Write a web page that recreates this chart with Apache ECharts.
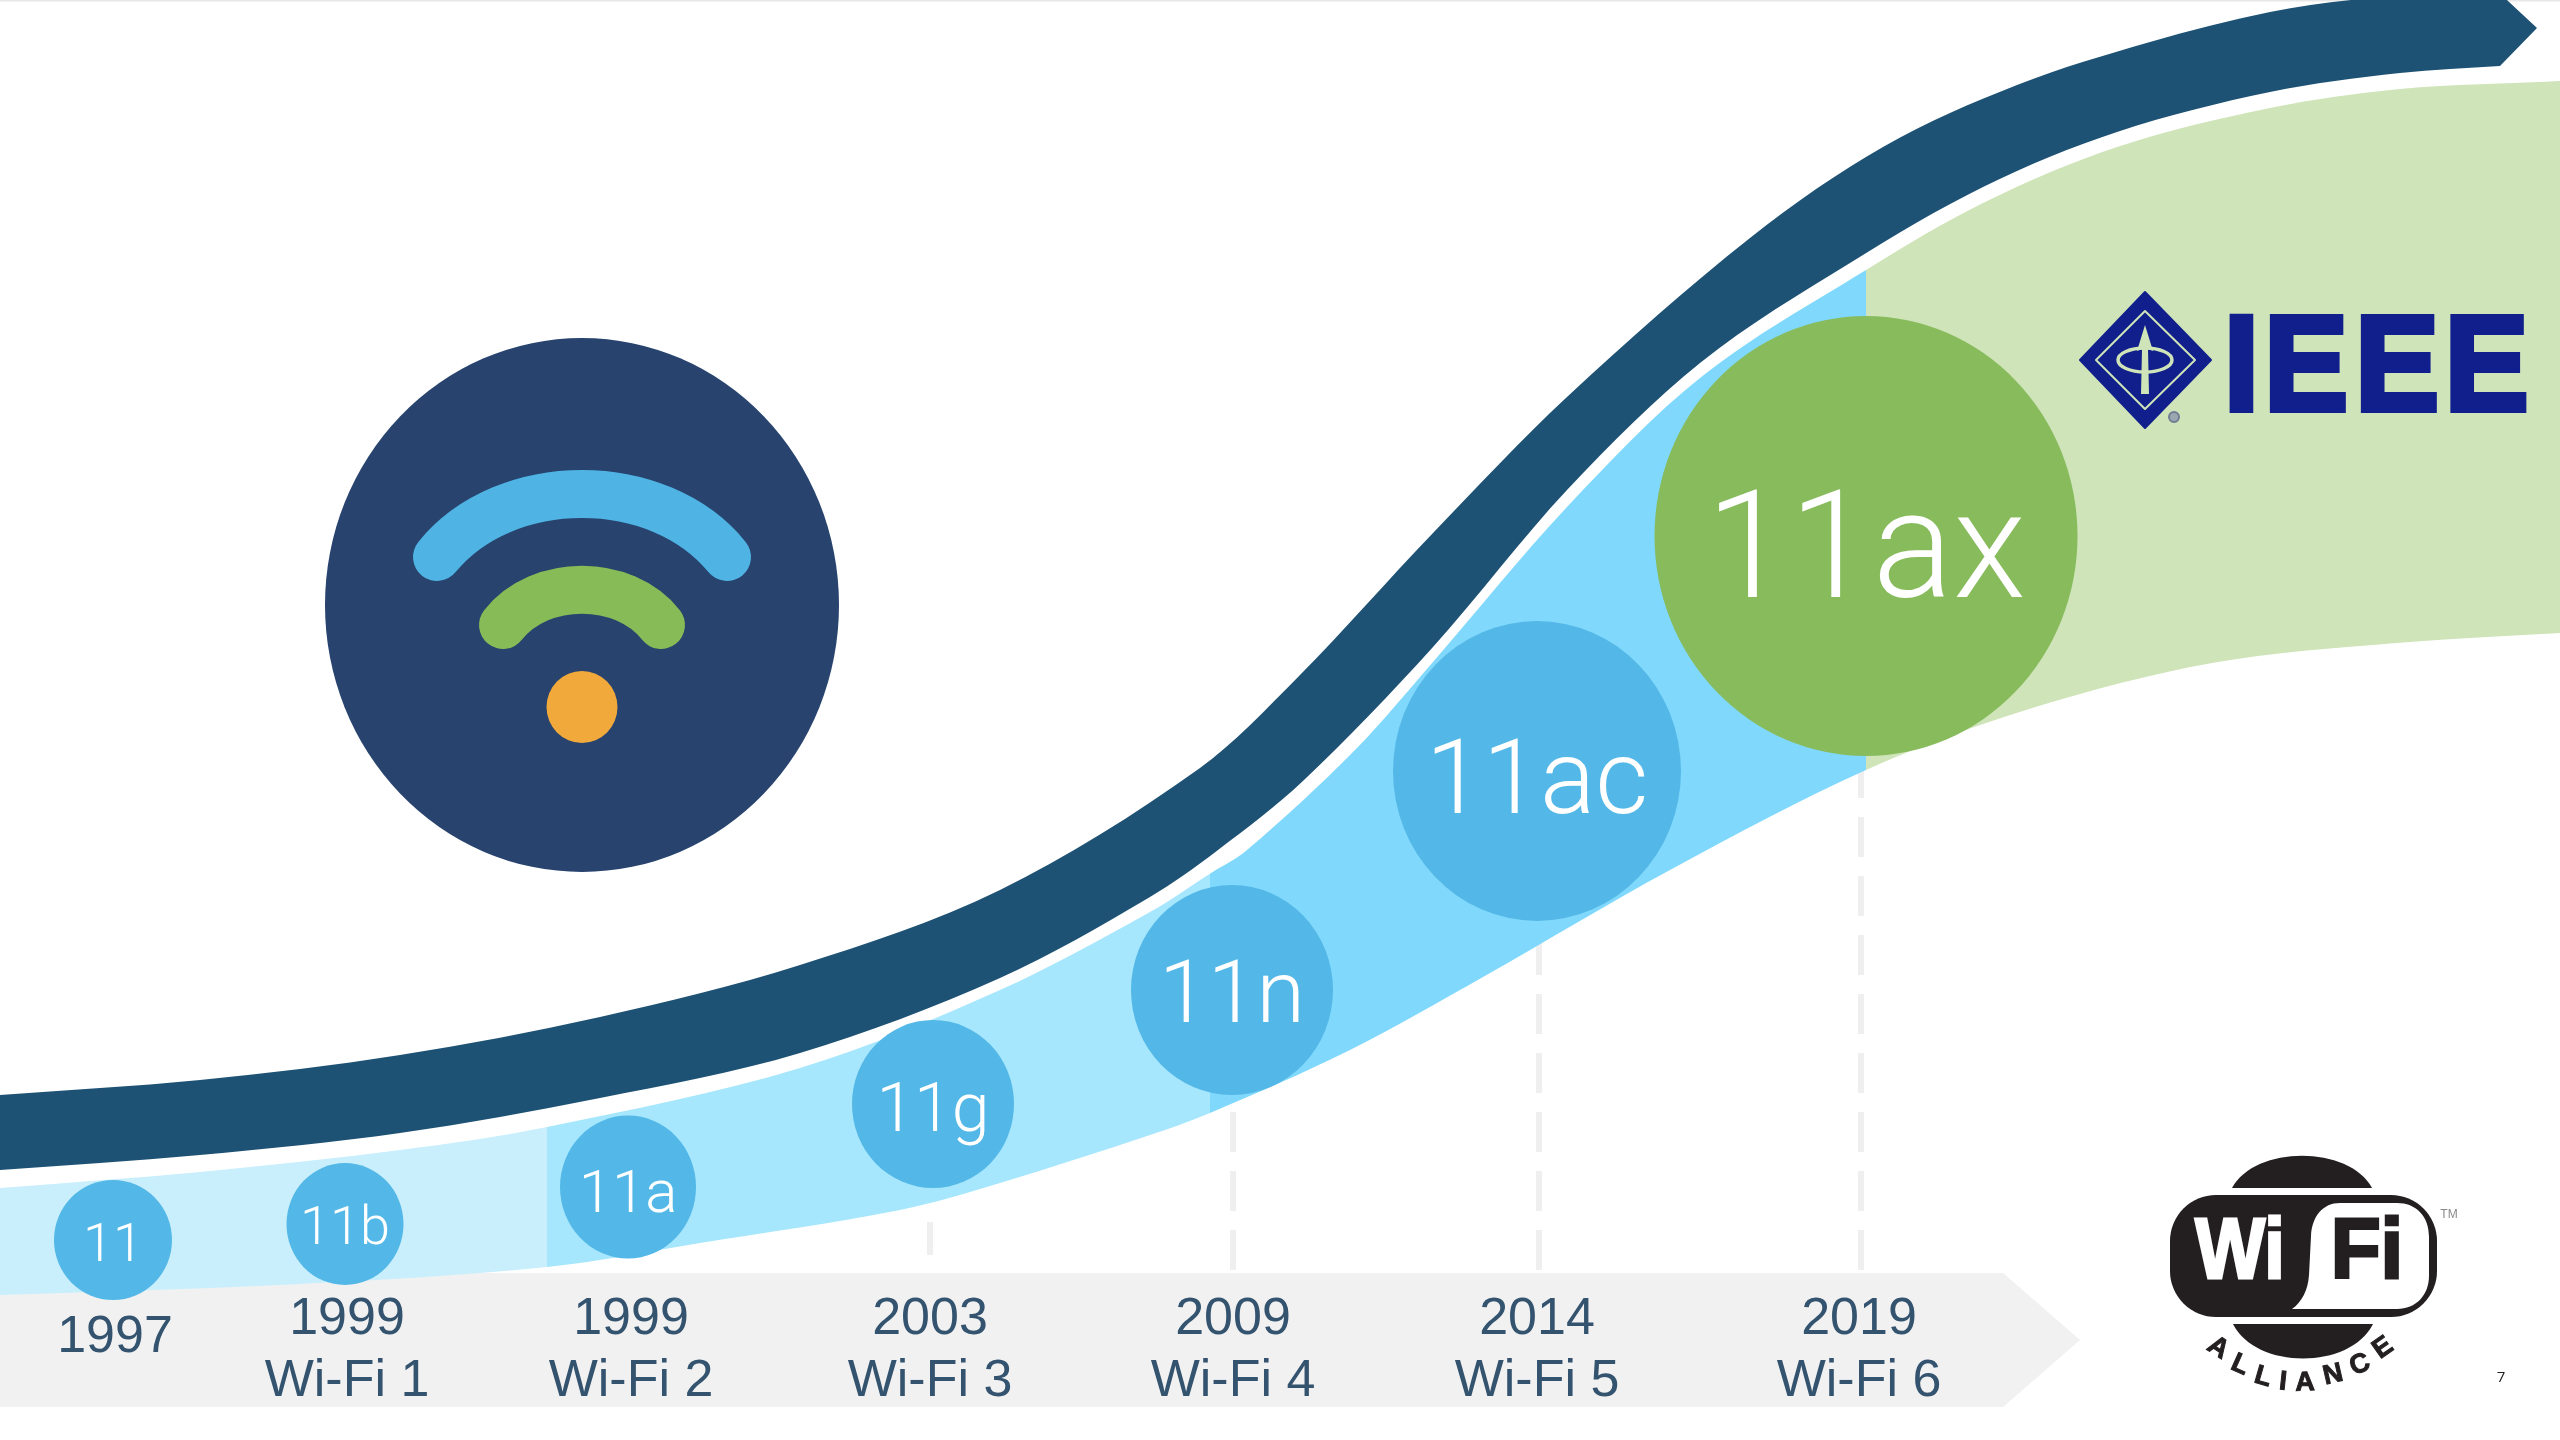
<!DOCTYPE html>
<html>
<head>
<meta charset="utf-8">
<title>Wi-Fi generations</title>
<style>html,body{margin:0;padding:0;background:#fff}#chart{width:2560px;height:1440px}</style>
<script src="https://cdn.jsdelivr.net/npm/echarts@6/dist/echarts.min.js"></script>
</head>
<body>
<div id="chart"></div>
<script>
// Standards: bubble name, centre and extent on the page-sized value axes
const standards = ['11', '11b', '11a', '11g', '11n', '11ac', '11ax'];
const standardX = [113, 345, 628, 933, 1232, 1537, 1866];
const standardY = [1240, 1224, 1187, 1104, 990, 771, 536];
const standardW = [118, 117, 136, 162, 202, 288, 423];
const standardH = [120, 122, 143, 168, 210, 300, 440];
const standardFont = [54, 54, 60, 68, 88, 103, 150];
const standardShift = [[0, 7], [0, 6], [0, 10], [0, 10], [0, 10], [0, 16], [0, 23]];

// Release timeline
const years = ['1997', '1999', '1999', '2003', '2009', '2014', '2019'];
const generations = ['', 'Wi-Fi 1', 'Wi-Fi 2', 'Wi-Fi 3', 'Wi-Fi 4', 'Wi-Fi 5', 'Wi-Fi 6'];
const yearX = [115, 347, 631, 930, 1233, 1537, 1859];
const yearY = [1338, 1320, 1320, 1320, 1320, 1320, 1320];
const generationY = 1382;

// Dashed drop lines: x, lower end, upper end
const dropLines = [[930, 1255, 1222], [1233, 1270, 1090], [1539, 1270, 900], [1861, 1270, 740]];

// Upper arrow ribbon edges
const ribbonTop = [[0, 1095], [200, 1080], [400, 1055], [600, 1017], [800, 965], [1000, 890], [1200, 768], [1300, 675], [1433, 533], [1567, 397], [1750, 238], [1883, 147], [2017, 85], [2150, 42], [2270, 12], [2351, 0], [2494, -12]];
const ribbonBottom = [[0, 1170], [200, 1155], [400, 1133], [600, 1098], [800, 1053], [1000, 978], [1150, 897], [1218, 850], [1304, 780], [1433, 647], [1567, 490], [1700, 363], [1850, 263], [1983, 187], [2117, 132], [2270, 92], [2400, 73], [2500, 66]];
const ribbonTip = [2537, 28];

// Adoption band edges and the x positions where its shade changes
const bandTop = [[0, 1188], [200, 1172], [400, 1150], [547, 1127], [800, 1068], [1000, 990], [1150, 912], [1247, 850], [1355, 750], [1433, 662], [1567, 507], [1700, 378], [1866, 270], [1983, 203], [2117, 147], [2270, 108], [2400, 89], [2560, 81]];
const bandBottom = [[0, 1295], [280, 1285], [547, 1267], [700, 1243], [900, 1210], [1000, 1183], [1150, 1135], [1210, 1113], [1350, 1050], [1483, 977], [1670, 870], [1866, 770], [2029, 709], [2212, 663], [2396, 643], [2560, 633]];
const bandBreaks = [0, 547, 1210, 1866, 2560];
const bandShades = ['#c9effd', '#a6e7fd', '#80d9fc', '#cfe4b8'];

// Timeline bar outline and the hairline along the page top
const timelineBar = [[0, 1273], [2003, 1273], [2080, 1340], [2003, 1407], [0, 1407]];
const topHairline = [[0, 0], [2560, 0], [2560, 1.5], [0, 1.5]];

// Wireless glyph: discs as x, y, width, height; arcs as cubic start, two controls, end
const glyphDisc = [582, 605, 514, 534];
const glyphDot = [582, 707, 71, 72];
const glyphOuterArc = [[437, 557], [505, 473], [659, 473], [727, 557]];
const glyphInnerArc = [[503, 625], [540, 578], [624, 578], [661, 625]];

// IEEE mark
const ieeeLetters = ['I', 'E', 'E', 'E'];
const ieeeLetterX = [2241.5, 2306, 2397, 2486.5];
const ieeeDiamond = [[2145, 292], [2211, 360], [2145, 428], [2080, 360]];
const ieeeInner = [[2145, 311], [2195, 360], [2145, 409], [2096, 360]];
const ieeeSpear = [[2145, 325], [2153, 351], [2148, 349], [2149, 394], [2141, 394], [2142, 349], [2137, 351]];

// Wi-Fi Alliance mark
const allianceLetters = ['A', 'L', 'L', 'I', 'A', 'N', 'C', 'E'];
const allianceX = [2218, 2240, 2263, 2283, 2305, 2333, 2360, 2383];
const allianceY = [1348, 1365, 1377, 1382, 1383, 1375, 1365, 1348];
const allianceTilt = [-33, -24, -16, -6, 2, 13, 22, 35];

const SANS = '"Liberation Sans", Arial, sans-serif';
const LIGHT = 'Roboto, "Liberation Sans", sans-serif';
const TEXT = '#33536f';

// Cubic Hermite walk along an edge whose points rise in x, from index i0 to i1.
// Slopes come from the neighbouring points, so adjacent pieces join without a kink.
function edgePath(api, pts, i0, i1, move) {
  const p = pts.map(q => api.coord(q));
  const slope = i => {
    const a = p[Math.max(i - 1, 0)], b = p[Math.min(i + 1, p.length - 1)];
    return (b[1] - a[1]) / (b[0] - a[0]);
  };
  const step = i0 < i1 ? 1 : -1;
  let d = (move ? 'M' : 'L') + p[i0][0] + ' ' + p[i0][1];
  for (let i = i0; i !== i1; i += step) {
    const b = p[i], c = p[i + step], h = (c[0] - b[0]) / 3;
    d += 'C' + (b[0] + h) + ' ' + (b[1] + slope(i) * h) + ' ' + (c[0] - h) + ' ' + (c[1] - slope(i + step) * h) + ' ' + c[0] + ' ' + c[1];
  }
  return d;
}
function indexAt(pts, x) { return pts.findIndex(q => q[0] === x); }
function insertBreaks(pts, breaks) {
  // Shade boundaries need a point of their own on both edges
  const out = pts.slice();
  breaks.forEach(x => {
    if (indexAt(out, x) >= 0) return;
    const j = out.findIndex(q => q[0] > x);
    const a = out[j - 1], b = out[j];
    out.splice(j, 0, [x, a[1] + (b[1] - a[1]) * (x - a[0]) / (b[0] - a[0])]);
  });
  return out;
}
const topEdge = insertBreaks(bandTop, bandBreaks);
const bottomEdge = insertBreaks(bandBottom, bandBreaks);

function bandSeries(k) {
  return {
    type: 'custom', coordinateSystem: 'cartesian2d', z: 3, silent: true, clip: false, data: [k],
    renderItem: (params, api) => ({
      type: 'path',
      shape: {
        pathData: edgePath(api, topEdge, indexAt(topEdge, bandBreaks[k]), indexAt(topEdge, bandBreaks[k + 1]), true) +
          edgePath(api, bottomEdge, indexAt(bottomEdge, bandBreaks[k + 1]), indexAt(bottomEdge, bandBreaks[k]), false) + 'Z'
      },
      style: { fill: bandShades[k] }
    })
  };
}
function polygonPoints(api, pts) { return pts.map(q => api.coord(q)); }
function textEl(api, x, y, text, o) {
  const c = api.coord([x, y]);
  return {
    type: 'text', x: c[0], y: c[1], scaleX: o.scaleX || 1, rotation: o.rotation || 0,
    style: {
      text: text, x: 0, y: 0, fill: o.fill, stroke: o.stroke, lineWidth: o.lineWidth || 0,
      font: (o.weight || 'normal') + ' ' + o.size + 'px ' + o.family,
      textAlign: 'center', textVerticalAlign: 'middle'
    }
  };
}
function glyphArc(pts, color) {
  return {
    type: 'custom', z: 21, silent: true, clip: false, data: [0],
    renderItem: (params, api) => {
      const p = pts.map(q => api.coord(q));
      return {
        type: 'path',
        shape: { pathData: 'M' + p[0].join(' ') + 'C' + p[1].join(' ') + ' ' + p[2].join(' ') + ' ' + p[3].join(' ') },
        style: { fill: 'none', stroke: color, lineWidth: 48, lineCap: 'round' }
      };
    }
  };
}

const option = {
  backgroundColor: '#ffffff',
  animation: false,
  grid: { left: 0, right: 0, top: 0, bottom: 0 },
  xAxis: { type: 'value', min: 0, max: 2560, show: false },
  yAxis: { type: 'value', min: 0, max: 1440, inverse: true, show: false },
  series: [
    // page hairline and timeline bar
    {
      type: 'custom', z: 1, silent: true, data: [0],
      renderItem: (params, api) => ({
        type: 'group',
        children: [
          { type: 'polygon', shape: { points: polygonPoints(api, topHairline) }, style: { fill: '#e8e8e8' } },
          { type: 'polygon', shape: { points: polygonPoints(api, timelineBar) }, style: { fill: '#f1f1f1' } }
        ]
      })
    },
    // dashed drop lines
    ...dropLines.map(l => ({
      type: 'line', z: 2, silent: true, symbol: 'none',
      data: [[l[0], l[1]], [l[0], l[2]]],
      lineStyle: { color: '#efefef', width: 6, type: [40, 19] }
    })),
    ...bandShades.map((s, k) => bandSeries(k)),
    // arrow ribbon
    {
      type: 'custom', z: 4, silent: true, clip: false, data: [0],
      renderItem: (params, api) => {
        const tip = api.coord(ribbonTip);
        return {
          type: 'path',
          shape: {
            pathData: edgePath(api, ribbonTop, 0, ribbonTop.length - 1, true) + 'L' + tip[0] + ' ' + tip[1] +
              edgePath(api, ribbonBottom, ribbonBottom.length - 1, 0, false) + 'Z'
          },
          style: { fill: '#1e5274' }
        };
      }
    },
    // standard bubbles
    {
      type: 'scatter', z: 10, silent: true,
      symbolSize: (v, p) => [standardW[p.dataIndex], standardH[p.dataIndex]],
      data: standards.map((name, i) => ({
        name: name,
        value: [standardX[i], standardY[i]],
        itemStyle: { color: i === 6 ? '#87bb5c' : '#53b8e7', opacity: 1 },
        label: {
          show: true, position: 'inside', formatter: name, color: '#ffffff',
          fontFamily: LIGHT, fontWeight: 300, fontSize: standardFont[i], offset: standardShift[i]
        }
      }))
    },
    // timeline labels
    {
      type: 'custom', z: 12, silent: true, data: [0],
      renderItem: (params, api) => ({
        type: 'group',
        children: years.map((y, i) => textEl(api, yearX[i], yearY[i], y, { fill: TEXT, size: 52, family: SANS }))
          .concat(generations.map((g, i) => textEl(api, yearX[i], generationY, g, { fill: TEXT, size: 52, family: SANS })))
      })
    },
    // wireless glyph
    {
      type: 'scatter', z: 20, silent: true, symbolSize: [glyphDisc[2], glyphDisc[3]],
      data: [[glyphDisc[0], glyphDisc[1]]], itemStyle: { color: '#27436e', opacity: 1 }
    },
    glyphArc(glyphOuterArc, '#4fb3e3'),
    glyphArc(glyphInnerArc, '#86bb57'),
    {
      type: 'scatter', z: 22, silent: true, symbolSize: [glyphDot[2], glyphDot[3]],
      data: [[glyphDot[0], glyphDot[1]]], itemStyle: { color: '#f2a93b', opacity: 1 }
    },
    // IEEE mark
    {
      type: 'custom', z: 15, silent: true, data: [0],
      renderItem: (params, api) => {
        const navy = '#101f8c', pale = '#cfe4b8';
        const ring = api.coord([2145, 360]), reg = api.coord([2174, 417]);
        return {
          type: 'group',
          children: [
            { type: 'polygon', shape: { points: polygonPoints(api, ieeeDiamond) }, style: { fill: navy, stroke: navy, lineWidth: 2, lineJoin: 'round' } },
            { type: 'polygon', shape: { points: polygonPoints(api, ieeeInner) }, style: { fill: 'none', stroke: pale, lineWidth: 2, lineJoin: 'round' } },
            { type: 'ellipse', shape: { cx: ring[0], cy: ring[1], rx: 27, ry: 12 }, style: { fill: 'none', stroke: pale, lineWidth: 3.5 } },
            { type: 'polygon', shape: { points: polygonPoints(api, ieeeSpear) }, style: { fill: pale } },
            { type: 'circle', shape: { cx: reg[0], cy: reg[1], r: 5 }, style: { fill: '#9aa7b0', stroke: '#6f7d95', lineWidth: 2 } }
          ].concat(ieeeLetters.map((ch, i) => textEl(api, ieeeLetterX[i], 373, ch, {
            fill: navy, stroke: navy, lineWidth: 6, size: 135, family: SANS, weight: 'bold', scaleX: 0.93
          })))
        };
      }
    },
    // Wi-Fi Alliance mark
    {
      type: 'custom', z: 15, silent: true, data: [0],
      renderItem: (params, api) => {
        const ink = '#231f20';
        const pill = api.coord([2170, 1195]);
        const mapped = (cmds) => cmds.map(c => c[0] + c.slice(1).join(' ')).join('');
        const xy = (x, y) => api.coord([x, y]);
        const capTop = xy(2232, 1188), capTopEnd = xy(2372, 1188), capBot = xy(2233, 1324), capBotEnd = xy(2373, 1324);
        const bubble = [
          ['M', ...xy(2340, 1203)], ['L', ...xy(2397, 1203)], ['C', ...xy(2416, 1203), ...xy(2429, 1216), ...xy(2429, 1237)],
          ['L', ...xy(2429, 1276)], ['C', ...xy(2429, 1295), ...xy(2416, 1309), ...xy(2397, 1309)],
          ['L', ...xy(2292, 1309)], ['C', ...xy(2302, 1302), ...xy(2308, 1290), ...xy(2309, 1275)],
          ['L', ...xy(2311, 1236)], ['C', ...xy(2312, 1216), ...xy(2323, 1203), ...xy(2340, 1203)], ['Z']
        ];
        return {
          type: 'group',
          children: [
            { type: 'path', shape: { pathData: mapped([['M', ...capTop], ['C', ...xy(2255, 1145), ...xy(2349, 1145), ...capTopEnd], ['Z']]) }, style: { fill: ink } },
            { type: 'path', shape: { pathData: mapped([['M', ...capBot], ['C', ...xy(2256, 1370), ...xy(2350, 1370), ...capBotEnd], ['Z']]) }, style: { fill: ink } },
            { type: 'rect', shape: { x: pill[0], y: pill[1], width: 267, height: 122, r: 46 }, style: { fill: ink } },
            { type: 'path', shape: { pathData: mapped(bubble) }, style: { fill: '#ffffff' } },
            textEl(api, 2240, 1254, 'Wi', { fill: '#ffffff', stroke: '#ffffff', lineWidth: 3, size: 86, family: SANS, weight: 'bold', scaleX: 0.86 }),
            textEl(api, 2367, 1254, 'Fi', { fill: ink, stroke: ink, lineWidth: 3, size: 86, family: SANS, weight: 'bold', scaleX: 0.95 }),
            textEl(api, 2449, 1215, 'TM', { fill: '#8a8a8a', size: 12, family: SANS })
          ].concat(allianceLetters.map((ch, i) => textEl(api, allianceX[i], allianceY[i], ch, {
            fill: ink, stroke: ink, lineWidth: 1, size: 27, family: SANS, weight: 'bold',
            rotation: allianceTilt[i] * Math.PI / 180
          })))
        };
      }
    },
    // slide number
    {
      type: 'custom', z: 15, silent: true, data: [0],
      renderItem: (params, api) => textEl(api, 2501, 1378, '7', { fill: '#222222', size: 15, family: '"Open Sans", sans-serif' })
    }
  ]
};

echarts.init(document.getElementById('chart'), null, { renderer: 'canvas' }).setOption(option);
</script>
</body>
</html>
